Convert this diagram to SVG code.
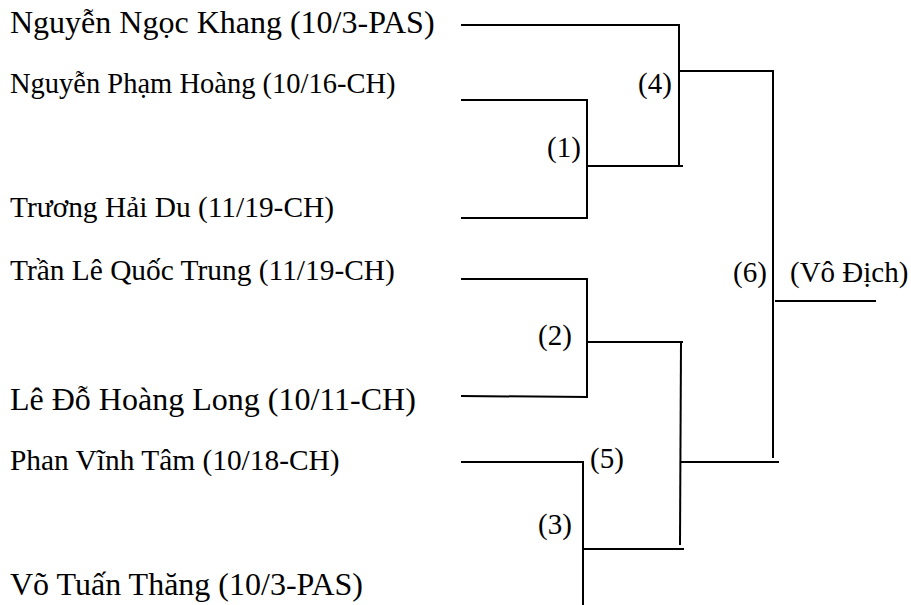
<svg xmlns="http://www.w3.org/2000/svg" width="911" height="605" viewBox="0 0 911 605">
<style>
.n{font-family:"Liberation Serif","Times New Roman",serif;fill:#000}
.big{font-size:32px}
.sm{font-size:29.4px}
.lb{font-family:"Liberation Serif","Times New Roman",serif;font-size:29px;fill:#000}
.c line{stroke:#000;stroke-width:2;stroke-linecap:square}
</style>
<rect width="911" height="605" fill="#fff"/>
<g id="p1"><text class="n big" x="10" y="33">Nguyễn Ngọc Khang (10/3-PAS)</text></g>
<g id="p2"><text class="n" font-size="28.5" x="10" y="93">Nguyễn Phạm Hoàng (10/16-CH)</text></g>
<g id="p3"><text class="n sm" x="10" y="217">Trương Hải Du (11/19-CH)</text></g>
<g id="p4"><text class="n sm" x="10" y="280">Trần Lê Quốc Trung (11/19-CH)</text></g>
<g id="p5"><text class="n big" x="10" y="410">Lê Đỗ Hoàng Long (10/11-CH)</text></g>
<g id="p6"><text class="n sm" x="10" y="470">Phan Vĩnh Tâm (10/18-CH)</text></g>
<g id="p7"><text class="n big" x="10" y="595">Võ Tuấn Thăng (10/3-PAS)</text></g>
<g id="m1"><text class="lb" x="547" y="157">(1)</text></g>
<g id="m2"><text class="lb" x="538" y="345">(2)</text></g>
<g id="m3"><text class="lb" x="538" y="534">(3)</text></g>
<g id="m4"><text class="lb" x="638" y="93">(4)</text></g>
<g id="m5"><text class="lb" x="590" y="468">(5)</text></g>
<g id="m6"><text class="lb" x="733" y="282">(6)</text></g>
<g id="champ"><text class="lb" font-size="27" x="790" y="282">(Vô Địch)</text></g>
<g class="c" id="connectors">
<line x1="462" y1="25" x2="679" y2="25"/>
<line x1="679" y1="25" x2="679" y2="166"/>
<line x1="462" y1="100" x2="587" y2="100"/>
<line x1="587" y1="100" x2="587" y2="218"/>
<line x1="462" y1="218" x2="587" y2="218"/>
<line x1="587" y1="166" x2="682" y2="166"/>
<line x1="680" y1="71" x2="773" y2="71"/>
<line x1="773" y1="71" x2="773" y2="457"/>
<line x1="462" y1="279" x2="587" y2="279"/>
<line x1="587" y1="279" x2="587" y2="397"/>
<line x1="462" y1="396" x2="587" y2="397"/>
<line x1="587" y1="342" x2="682" y2="342"/>
<line x1="681" y1="342" x2="680" y2="544"/>
<line x1="462" y1="462" x2="583" y2="462"/>
<line x1="583" y1="462" x2="583" y2="605"/>
<line x1="583" y1="549" x2="683" y2="549"/>
<line x1="682" y1="462" x2="778" y2="462"/>
<line x1="776" y1="301" x2="875" y2="301"/>
</g>
</svg>
